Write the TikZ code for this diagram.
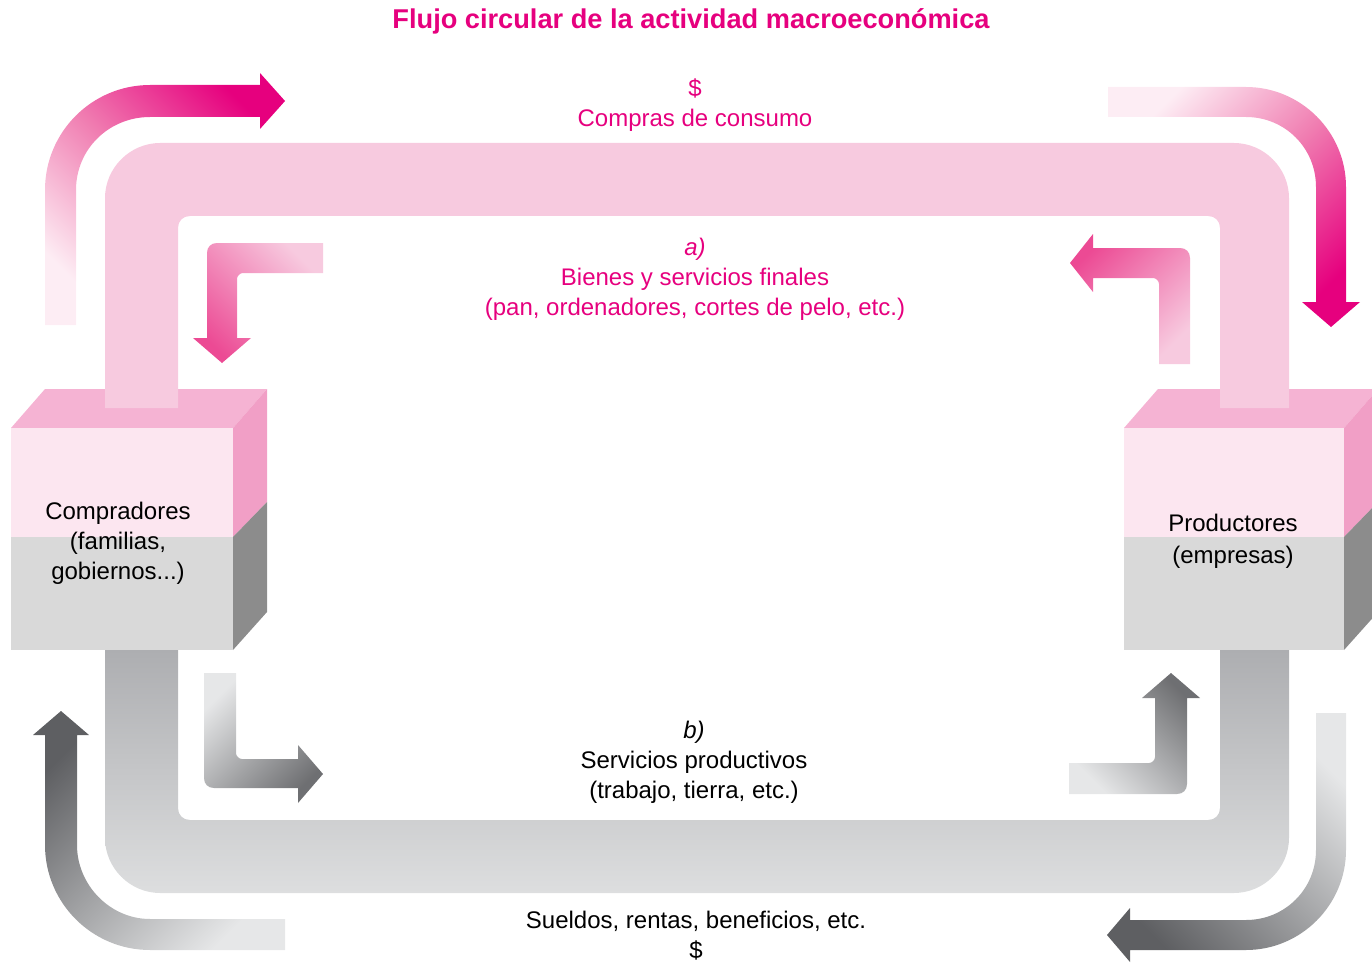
\documentclass[tikz,border=0pt]{standalone}
\usepackage{fontspec}
\setmainfont{Liberation Sans}

\definecolor{flujo}{HTML}{E6007E}
\definecolor{rosafrente}{HTML}{FCE6F0}
\definecolor{rosatapa}{HTML}{F5B3D3}
\definecolor{rosalado}{HTML}{F19FC6}
\definecolor{rosacanal}{HTML}{F7CADF}
\definecolor{rosapalido}{HTML}{FDEDF4}
\definecolor{rosamedio}{HTML}{F07DB1}
\definecolor{rosavivo}{HTML}{EC4A94}
\definecolor{grisfrente}{HTML}{D9D9D9}
\definecolor{grislado}{HTML}{8C8C8C}
\definecolor{griscanalA}{HTML}{ADAEB1}
\definecolor{griscanalB}{HTML}{DDDEDF}
\definecolor{grispalido}{HTML}{E6E7E8}
\definecolor{grisoscuro}{HTML}{5E5F62}

\begin{document}
\begin{tikzpicture}[x=0.5pt,y=-0.5pt,
  txt/.style={align=center,font=\fontsize{12}{15}\selectfont},
  rosatxt/.style={txt,text=flujo}]

\clip (0,0) rectangle (1372,963);

% compradores
\fill[rosatapa] (11,428) -- (45,389) -- (267,389) -- (233,428) -- cycle;
\fill[rosafrente] (11,428) rectangle (233,537);
\fill[grisfrente] (11,537) rectangle (233,650);
\fill[rosalado] (233,428) -- (267,389) -- (267,502) -- (233,537) -- cycle;
\fill[grislado] (233,537) -- (267,502) -- (267,612) -- (233,650) -- cycle;

% productores
\fill[rosatapa] (1124,428) -- (1158,389) -- (1378,389) -- (1344,428) -- cycle;
\fill[rosafrente] (1124,428) rectangle (1344,537);
\fill[grisfrente] (1124,537) rectangle (1344,650);
\fill[rosalado] (1344,428) -- (1378,389) -- (1378,502) -- (1344,537) -- cycle;
\fill[grislado] (1344,537) -- (1378,502) -- (1378,612) -- (1344,650) -- cycle;

% canales
\fill[rosacanal] (105,408) -- (105,198) .. controls (105,168) and (130,143) .. (160,143)
  -- (1234,143) .. controls (1264,143) and (1289,168) .. (1289,198) -- (1289,408)
  -- (1220,408) -- (1220,228) .. controls (1220,221) and (1215,216) .. (1208,216)
  -- (190,216) .. controls (183,216) and (178,221) .. (178,228) -- (178,408) -- cycle;
\shade[top color=griscanalA, bottom color=griscanalB] (105,650) -- (105,838) .. controls (105,868) and (130,893) .. (160,893)
  -- (1234,893) .. controls (1264,893) and (1289,868) .. (1289,838) -- (1289,650)
  -- (1220,650) -- (1220,808) .. controls (1220,815) and (1215,820) .. (1208,820)
  -- (190,820) .. controls (183,820) and (178,815) .. (178,808) -- (178,650) -- cycle;

% flechas rosas
\shade[top color=flujo, bottom color=rosapalido, middle color=rosamedio, shading angle=-45]
  (45,325) -- (45,190) .. controls (45,132) and (92,85) .. (150,85) -- (260,85) -- (260,73)
  -- (285,101) -- (260,129) -- (260,117) -- (150,117) .. controls (109,117) and (76,149) .. (76,190)
  -- (76,325) -- cycle;
\shade[top color=rosapalido, bottom color=flujo, middle color=rosamedio, shading angle=45]
  (1108,87) -- (1246,87) .. controls (1301,87) and (1346,132) .. (1346,187) -- (1346,302) -- (1360,302)
  -- (1331,327) -- (1302,302) -- (1316,302) -- (1316,187) .. controls (1316,148) and (1285,117) .. (1246,117)
  -- (1108,117) -- cycle;
\shade[top color=rosacanal, bottom color=rosavivo, shading angle=-45]
  (323,243) -- (217,243) .. controls (211,243) and (207,247) .. (207,253) -- (207,338) -- (193,338)
  -- (222,363) -- (251,338) -- (237,338) -- (237,279) .. controls (237,276) and (240,273) .. (243,273)
  -- (323,273) -- cycle;
\shade[top color=rosavivo, bottom color=rosacanal, shading angle=45]
  (1190,364) -- (1190,258) .. controls (1190,252) and (1186,248) .. (1180,248) -- (1093,248) -- (1093,234)
  -- (1070,263) -- (1093,292) -- (1093,278) -- (1153,278) .. controls (1156,278) and (1159,281) .. (1159,284)
  -- (1159,364) -- cycle;

% flechas grises
\shade[top color=grispalido, bottom color=grisoscuro!90, shading angle=45]
  (204,673) -- (204,778) .. controls (204,784) and (208,788) .. (214,788) -- (298,788) -- (298,803)
  -- (323,774) -- (298,745) -- (298,759) -- (242,759) .. controls (239,759) and (236,756) .. (236,753)
  -- (236,673) -- cycle;
\shade[top color=grisoscuro, bottom color=grispalido, shading angle=45]
  (285,950) -- (150,950) .. controls (92,950) and (45,903) .. (45,845) -- (45,735) -- (33,735)
  -- (61,711) -- (89,735) -- (77,735) -- (77,845) .. controls (77,885) and (110,919) .. (150,919)
  -- (285,919) -- cycle;
\shade[top color=grisoscuro!90, bottom color=grispalido, shading angle=-45]
  (1069,763) -- (1149,763) .. controls (1152,763) and (1155,760) .. (1155,757) -- (1155,698) -- (1142,698)
  -- (1171,673) -- (1200,698) -- (1187,698) -- (1187,784) .. controls (1187,790) and (1183,794) .. (1177,794)
  -- (1069,794) -- cycle;
\shade[top color=grispalido, bottom color=grisoscuro, shading angle=-45]
  (1346,713) -- (1346,850) .. controls (1346,905) and (1301,950) .. (1246,950) -- (1130,950) -- (1130,962)
  -- (1107,935) -- (1130,908) -- (1130,920) -- (1246,920) .. controls (1285,920) and (1316,889) .. (1316,850)
  -- (1316,713) -- cycle;

\node[text=flujo,font=\bfseries\fontsize{13.6}{15}\selectfont] (title) at (691,21) {Flujo circular de la actividad macroeconómica};
\node[rosatxt] (compras) at (695,105) {\$\\Compras de consumo};
\node[rosatxt] (bienes) at (695,279) {\textit{a)}\\Bienes y servicios finales\\(pan, ordenadores, cortes de pelo, etc.)};
\node[txt] (compradores) at (118,543) {Compradores\\(familias,\\gobiernos...)};
\node[txt,font=\fontsize{12}{16}\selectfont] (productores) at (1233,541) {Productores\\(empresas)};
\node[txt] (servicios) at (694,762) {\textit{b)}\\Servicios productivos\\(trabajo, tierra, etc.)};
\node[txt,inner sep=1pt] (sueldos) at (696,936) {Sueldos, rentas, beneficios, etc.\\\$};

\end{tikzpicture}
\end{document}
